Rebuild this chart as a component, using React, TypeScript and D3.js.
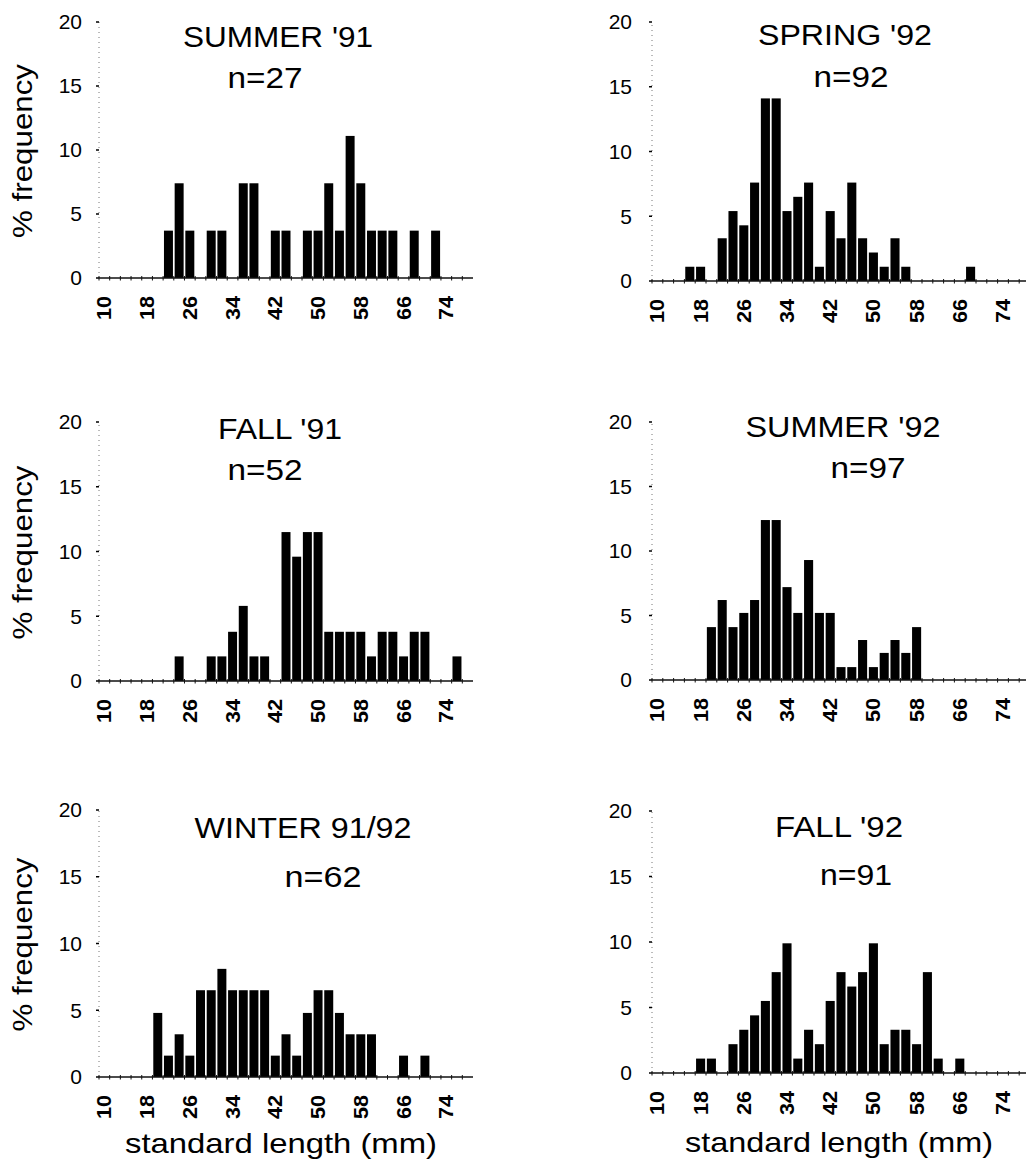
import React from 'react';
import * as d3 from 'd3';

// ---------- data ----------
const BINS = [10, 12, 14, 16, 18, 20, 22, 24, 26, 28, 30, 32, 34, 36, 38, 40, 42, 44, 46, 48, 50, 52, 54, 56, 58, 60, 62, 64, 66, 68, 70, 72, 74, 76, 78];
const X_TICK_LABELS = [10, 18, 26, 34, 42, 50, 58, 66, 74];
const Y_TICKS = [0, 5, 10, 15, 20];

const summer91Len = [22, 24, 26, 30, 32, 36, 38, 42, 44, 48, 50, 52, 54, 56, 58, 60, 62, 64, 68, 72];
const summer91Pct = [3.7, 7.4, 3.7, 3.7, 3.7, 7.4, 7.4, 3.7, 3.7, 3.7, 3.7, 7.4, 3.7, 11.1, 7.4, 3.7, 3.7, 3.7, 3.7, 3.7];

const spring92Len = [16, 18, 22, 24, 26, 28, 30, 32, 34, 36, 38, 40, 42, 44, 46, 48, 50, 52, 54, 56, 68];
const spring92Pct = [1.1, 1.1, 3.3, 5.4, 4.3, 7.6, 14.1, 14.1, 5.4, 6.5, 7.6, 1.1, 5.4, 3.3, 7.6, 3.3, 2.2, 1.1, 3.3, 1.1, 1.1];

const fall91Len = [24, 30, 32, 34, 36, 38, 40, 44, 46, 48, 50, 52, 54, 56, 58, 60, 62, 64, 66, 68, 70, 76];
const fall91Pct = [1.9, 1.9, 1.9, 3.8, 5.8, 1.9, 1.9, 11.5, 9.6, 11.5, 11.5, 3.8, 3.8, 3.8, 3.8, 1.9, 3.8, 3.8, 1.9, 3.8, 3.8, 1.9];

const summer92Len = [20, 22, 24, 26, 28, 30, 32, 34, 36, 38, 40, 42, 44, 46, 48, 50, 52, 54, 56, 58];
const summer92Pct = [4.1, 6.2, 4.1, 5.2, 6.2, 12.4, 12.4, 7.2, 5.2, 9.3, 5.2, 5.2, 1.0, 1.0, 3.1, 1.0, 2.1, 3.1, 2.1, 4.1];

const winterLen = [20, 22, 24, 26, 28, 30, 32, 34, 36, 38, 40, 42, 44, 46, 48, 50, 52, 54, 56, 58, 60, 66, 70];
const winterPct = [4.8, 1.6, 3.2, 1.6, 6.5, 6.5, 8.1, 6.5, 6.5, 6.5, 6.5, 1.6, 3.2, 1.6, 4.8, 6.5, 6.5, 4.8, 3.2, 3.2, 3.2, 1.6, 1.6];

const fall92Len = [18, 20, 24, 26, 28, 30, 32, 34, 36, 38, 40, 42, 44, 46, 48, 50, 52, 54, 56, 58, 60, 62, 66];
const fall92Pct = [1.1, 1.1, 2.2, 3.3, 4.4, 5.5, 7.7, 9.9, 1.1, 3.3, 2.2, 5.5, 7.7, 6.6, 7.7, 9.9, 2.2, 3.3, 3.3, 2.2, 7.7, 1.1, 1.1];

const TITLES = ["SUMMER '91", "SPRING '92", "FALL '91", "SUMMER '92", "WINTER 91/92", "FALL '92"];
const N_LABELS = ['n=27', 'n=92', 'n=52', 'n=97', 'n=62', 'n=91'];
const SERIES_LEN = [summer91Len, spring92Len, fall91Len, summer92Len, winterLen, fall92Len];
const SERIES_PCT = [summer91Pct, spring92Pct, fall91Pct, summer92Pct, winterPct, fall92Pct];

// ---------- layout ----------
const FONT = '"Liberation Sans", Arial, Helvetica, sans-serif';
const LEFT_RANGE: [number, number] = [99, 473];
const RIGHT_RANGE: [number, number] = [652, 1030];

const LAYOUT = [
  { side: 'L', y0: 278, y20: 22, tx: 278, ty: 47, tw: 190, nx: 265, ny: 88, nw: 75 },
  { side: 'R', y0: 281, y20: 22, tx: 845, ty: 45, tw: 174, nx: 851, ny: 87, nw: 75 },
  { side: 'L', y0: 681, y20: 422, tx: 280, ty: 439, tw: 124, nx: 265, ny: 480, nw: 75 },
  { side: 'R', y0: 680, y20: 422, tx: 843, ty: 437, tw: 195, nx: 868, ny: 478, nw: 75 },
  { side: 'L', y0: 1077, y20: 810, tx: 303, ty: 838, tw: 217, nx: 323, ny: 887, nw: 77 },
  { side: 'R', y0: 1073, y20: 811, tx: 839, ty: 837, tw: 128, nx: 856, ny: 885, nw: 72 },
];

function Panel({ idx }: { idx: number }) {
  const L = LAYOUT[idx];
  const range = L.side === 'L' ? LEFT_RANGE : RIGHT_RANGE;
  const x = d3.scaleBand<number>().domain(BINS).range(range).paddingInner(0.16).paddingOuter(0.08);
  const step = x.step();
  const y = d3.scaleLinear().domain([0, 20]).range([L.y0, L.y20]);
  const axisX = range[0];
  const labelRight = L.side === 'L' ? 82 : 632;
  const lens = SERIES_LEN[idx];
  const pcts = SERIES_PCT[idx];
  const isBottom = idx >= 4;

  // bin boundaries for axis ticks
  const boundaries = BINS.map((b) => (x(b) as number) - (step - x.bandwidth()) / 2);

  return (
    <g>
      {/* y axis: faint dotted line */}
      <line x1={axisX} x2={axisX} y1={y(0)} y2={y(20)} stroke="#777" strokeWidth={1} strokeDasharray="1,4" />
      {Y_TICKS.map((t) => (
        <g key={t}>
          <line x1={axisX - 3} x2={axisX} y1={y(t)} y2={y(t)} stroke="#000" strokeWidth={1.5} />
          <text
            x={labelRight}
            y={y(t)}
            dy="0.35em"
            textAnchor="end"
            fontSize={21}
            fontFamily={FONT}
            fill="#000"
          >
            {t}
          </text>
        </g>
      ))}

      {/* bars */}
      {lens.map((len, i) => (
        <rect
          key={len}
          x={x(len)}
          y={y(pcts[i])}
          width={x.bandwidth()}
          height={y(0) - y(pcts[i])}
          fill="#000"
        />
      ))}

      {/* x axis baseline */}
      <line x1={range[0]} x2={range[1]} y1={y(0)} y2={y(0)} stroke="#111" strokeWidth={1.3} />
      {boundaries.map((bx, i) => (
        <line key={i} x1={bx} x2={bx} y1={y(0) - 2} y2={y(0) + 2.5} stroke="#111" strokeWidth={1} />
      ))}

      {/* x tick labels */}
      {X_TICK_LABELS.map((t) => {
        const cx = (x(t) as number) + x.bandwidth() / 2;
        const ty = y(0) + 18;
        return (
          <text
            key={t}
            transform={`translate(${cx},${ty}) rotate(-90)`}
            textAnchor="end"
            dominantBaseline="central"
            fontSize={20}
            fontWeight="bold"
            fontFamily={FONT}
            textLength={24}
            lengthAdjust="spacingAndGlyphs"
            fill="#000"
          >
            {t}
          </text>
        );
      })}

      {/* titles */}
      <text
        x={L.tx}
        y={L.ty}
        textAnchor="middle"
        fontSize={29}
        fontFamily={FONT}
        textLength={L.tw}
        lengthAdjust="spacingAndGlyphs"
        fill="#000"
      >
        {TITLES[idx]}
      </text>
      <text
        x={L.nx}
        y={L.ny}
        textAnchor="middle"
        fontSize={29}
        fontFamily={FONT}
        textLength={L.nw}
        lengthAdjust="spacingAndGlyphs"
        fill="#000"
      >
        {N_LABELS[idx]}
      </text>

      {L.side === 'L' && (
        <text
          transform={`translate(32,${(L.y0 + L.y20) / 2 + 1}) rotate(-90)`}
          textAnchor="middle"
          fontSize={28}
          fontFamily={FONT}
          textLength={174}
          lengthAdjust="spacingAndGlyphs"
          fill="#000"
        >
          % frequency
        </text>
      )}

      {isBottom && (
        <text
          x={L.side === 'L' ? 281 : 839}
          y={L.side === 'L' ? 1153 : 1152}
          textAnchor="middle"
          fontSize={28}
          fontFamily={FONT}
          textLength={L.side === 'L' ? 312 : 308}
          lengthAdjust="spacingAndGlyphs"
          fill="#000"
        >
          standard length (mm)
        </text>
      )}
    </g>
  );
}

export default function App() {
  return (
    <svg
      width={1026}
      height={1164}
      style={{ position: 'absolute', left: 0, top: 0, background: '#fff' }}
    >
      <rect x={0} y={0} width={1026} height={1164} fill="#fff" />
      {LAYOUT.map((_, i) => (
        <Panel key={i} idx={i} />
      ))}
    </svg>
  );
}
